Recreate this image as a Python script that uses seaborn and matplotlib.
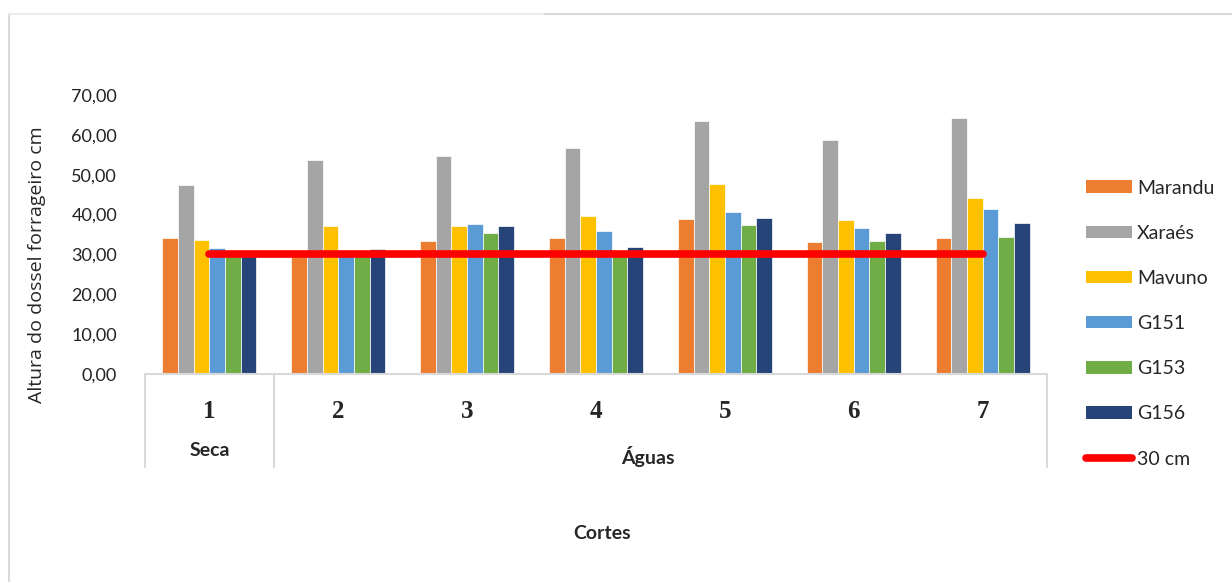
import pandas as pd
import matplotlib.pyplot as plt
import seaborn as sns
from matplotlib.lines import Line2D
from matplotlib.patches import Patch
from matplotlib.ticker import FuncFormatter

# dados
cortes = ['1', '2', '3', '4', '5', '6', '7']
marandu = [34.2, 29.8, 33.4, 34.0, 38.9, 33.0, 34.0]
xaraes = [47.3, 53.7, 54.6, 56.6, 63.6, 58.8, 64.2]
mavuno = [33.5, 37.2, 37.2, 39.6, 47.6, 38.6, 44.1]
g151 = [31.6, 29.8, 37.6, 36.0, 40.6, 36.6, 41.5]
g153 = [29.8, 30.9, 35.3, 31.1, 37.3, 33.4, 34.4]
g156 = [29.8, 31.4, 37.2, 31.8, 39.2, 35.3, 37.9]
referencia = [30, 30, 30, 30, 30, 30, 30]

series = {'Marandu': marandu, 'Xaraés': xaraes, 'Mavuno': mavuno,
          'G151': g151, 'G153': g153, 'G156': g156}
cores = {'Marandu': '#ED7D31', 'Xaraés': '#A5A5A5', 'Mavuno': '#FFC000',
         'G151': '#5B9BD5', 'G153': '#70AD47', 'G156': '#264478'}

linhas = []
for nome, vals in series.items():
    for c, v in zip(cortes, vals):
        linhas.append({'Corte': c, 'Cultivar': nome, 'Altura': v})
df = pd.DataFrame(linhas)

sns.set_style('white')
plt.rcParams['font.family'] = ['Lato', 'DejaVu Sans']

W, H = 1232, 582
fig = plt.figure(figsize=(W / 100, H / 100), dpi=100)
ax = fig.add_axes([145 / W, 1 - 374 / H, 902 / W, 279 / H])

sns.barplot(data=df, x='Corte', y='Altura', hue='Cultivar', palette=cores,
            width=0.73, saturation=1, edgecolor='white', linewidth=0.5,
            legend=False, ax=ax)
ax.plot(range(len(cortes)), referencia, color='#FF0000', lw=5.5,
        solid_capstyle='round', zorder=5)

ax.set_xlim(-0.5, 6.5)
ax.set_ylim(0, 70)
ax.set_yticks(range(0, 71, 10))
ax.yaxis.set_major_formatter(FuncFormatter(lambda v, p: f'{v:.2f}'.replace('.', ',')))
ax.tick_params(axis='y', length=0, pad=20, labelsize=13, labelcolor='#222222')
ax.set_xticks([])
ax.set_xlabel('')
ax.set_ylabel('')
for s in ['top', 'right', 'left']:
    ax.spines[s].set_visible(False)
ax.spines['bottom'].set_color('#d9d9d9')
ax.spines['bottom'].set_linewidth(1.5)

# eixo hierarquico
tr = ax.get_xaxis_transform()
for xv in [-0.5, 0.5, 6.5]:
    ax.plot([xv, xv], [0, -0.335], color='#d9d9d9', lw=1.5, transform=tr, clip_on=False)
for i, c in enumerate(cortes):
    ax.text(i, -0.135, c, transform=tr, ha='center', va='center',
            fontsize=18, fontweight='bold', family='Liberation Serif')
ax.text(0, -0.275, 'Seca', transform=tr, ha='center', va='center',
        fontsize=14, fontweight='bold')
ax.text(3.4, -0.297, 'Águas', transform=tr, ha='center', va='center',
        fontsize=14, fontweight='bold')
ax.text(3.05, -0.57, 'Cortes', transform=tr, ha='center', va='center',
        fontsize=14, fontweight='bold')

fig.text(37 / W, 1 - 265 / H, 'Altura do dossel forrageiro cm', rotation=90,
         ha='center', va='center', fontsize=14, family='Open Sans')

# legenda
handles = [Patch(facecolor=cores[n], edgecolor='none') for n in series]
handles.append(Line2D([0], [0], color='#FF0000', lw=5.5, solid_capstyle='round'))
labels = list(series) + ['30 cm']
fig.legend(handles, labels, loc='upper left', bbox_to_anchor=(1068 / W, 1 - 162 / H),
           frameon=False, fontsize=14, labelspacing=1.45, handlelength=2.4,
           handleheight=0.6, handletextpad=0.25)

# moldura
fig.add_artist(Line2D([9 / W, 9 / W], [0, 1 - 14 / H], color='#d9d9d9', lw=1.5))
fig.add_artist(Line2D([9 / W, 545 / W], [1 - 14 / H, 1 - 14 / H], color='#ececec', lw=1.5))
fig.add_artist(Line2D([545 / W, 1], [1 - 14 / H, 1 - 14 / H], color='#d9d9d9', lw=1.5))

fig.savefig('out.png', dpi=100, facecolor='white')
